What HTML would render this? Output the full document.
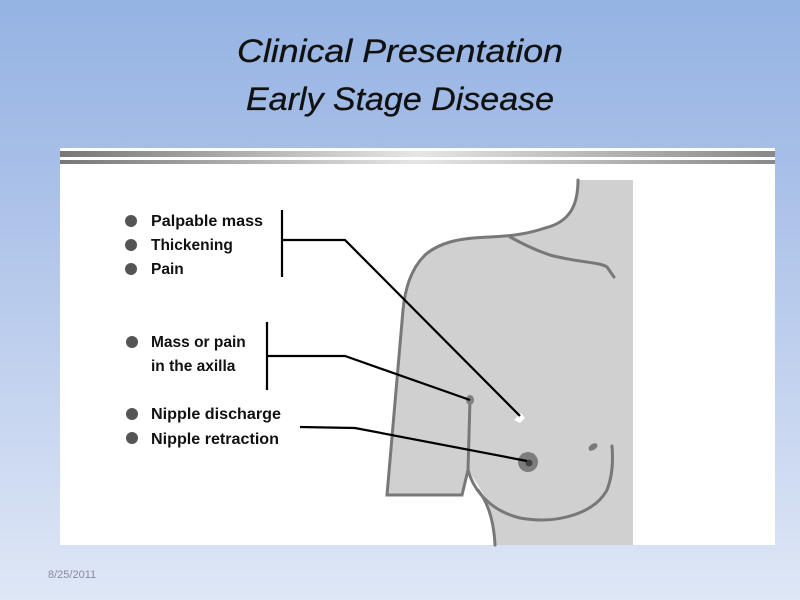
<!DOCTYPE html>
<html><head><meta charset="utf-8"><style>
html,body{margin:0;padding:0;width:800px;height:600px;overflow:hidden}
</style></head><body>
<svg width="800" height="600" viewBox="0 0 800 600" xmlns="http://www.w3.org/2000/svg" font-family="Liberation Sans, Arial, sans-serif">
<defs>
<linearGradient id="bg" x1="0" y1="0" x2="0" y2="1">
<stop offset="0" stop-color="#95b3e3"/><stop offset="0.3" stop-color="#a9c0e8"/><stop offset="1" stop-color="#dfe7f6"/>
</linearGradient>
<linearGradient id="st" x1="0" y1="0" x2="1" y2="0">
<stop offset="0" stop-color="#777"/><stop offset="0.5" stop-color="#e6e6e6"/><stop offset="1" stop-color="#888"/>
</linearGradient>
</defs>
<rect width="800" height="600" fill="url(#bg)"/>
<text x="400" y="62" font-size="32" font-style="italic" text-anchor="middle" fill="#111" stroke="#111" stroke-width="0.3" textLength="326" lengthAdjust="spacingAndGlyphs">Clinical Presentation</text>
<text x="400" y="110" font-size="32" font-style="italic" text-anchor="middle" fill="#111" stroke="#111" stroke-width="0.3" textLength="308" lengthAdjust="spacingAndGlyphs">Early Stage Disease</text>
<rect x="60" y="148" width="715" height="397" fill="#fff"/>
<rect x="60" y="151" width="715" height="6" fill="url(#st)"/>
<rect x="60" y="160" width="715" height="4" fill="url(#st)"/>
<path d="M578,180 C578,205 570,222 545,228 C530,233 515,236 490,237 C460,238 440,242 425,255 C410,270 405,290 403,310 L387,495 L462,495 L468,470 C478,485 485,495 488,505 C492,515 494,530 495,545 L633,545 L633,180 Z" fill="#d0d0d0"/>
<g fill="none" stroke="#787878" stroke-width="3" stroke-linecap="round">
<path d="M578,180 C578,205 570,222 545,228 C530,233 515,236 490,237 C460,238 440,242 425,255 C410,270 405,290 403,310 L387,495 L462,495 L468,470"/>
<path d="M470,400 L468,470 C475,495 495,512 520,518 C560,525 595,512 607,490 C613,475 613,458 612,446"/>
<path d="M478,490 C490,505 494,525 495,545"/>
<path d="M510,237 C525,245 535,250 550,255 C575,262 600,262 607,267 L614,277"/>
</g>
<ellipse cx="470" cy="400" rx="4" ry="5" fill="#808080"/>
<path d="M514,420 L521,413 L525,418 L520,423 Z" fill="#fff"/>
<circle cx="528" cy="462" r="10" fill="#7d7d7d"/>
<circle cx="529" cy="463" r="3.5" fill="#444"/>
<ellipse cx="593" cy="447" rx="5" ry="3" transform="rotate(-35 593 447)" fill="#7a7a7a"/>
<g stroke="#000" stroke-width="2.2" fill="none">
<path d="M282,210 L282,277 M282,240 L345,240 L520,416"/>
<path d="M267,322 L267,390 M267,356 L345,356 L470,400"/>
<path d="M300,427 L355,428 L527,461"/>
</g>
<g fill="#555">
<circle cx="131" cy="221" r="6"/><circle cx="131" cy="245" r="6"/><circle cx="131" cy="269" r="6"/>
<circle cx="132" cy="342" r="6"/>
<circle cx="132" cy="414" r="6"/><circle cx="132" cy="438" r="6"/>
</g>
<g font-size="15.5" font-weight="bold" fill="#111">
<text x="151" y="226" textLength="112" lengthAdjust="spacingAndGlyphs">Palpable mass</text>
<text x="151" y="250">Thickening</text>
<text x="151" y="274">Pain</text>
<text x="151" y="347">Mass or pain</text>
<text x="151" y="371">in the axilla</text>
<text x="151" y="419" textLength="130" lengthAdjust="spacingAndGlyphs">Nipple discharge</text>
<text x="151" y="444" textLength="128" lengthAdjust="spacingAndGlyphs">Nipple retraction</text>
</g>
<text x="48" y="578" font-size="11" fill="#8a8a9a">8/25/2011</text>
</svg>
</body></html>
